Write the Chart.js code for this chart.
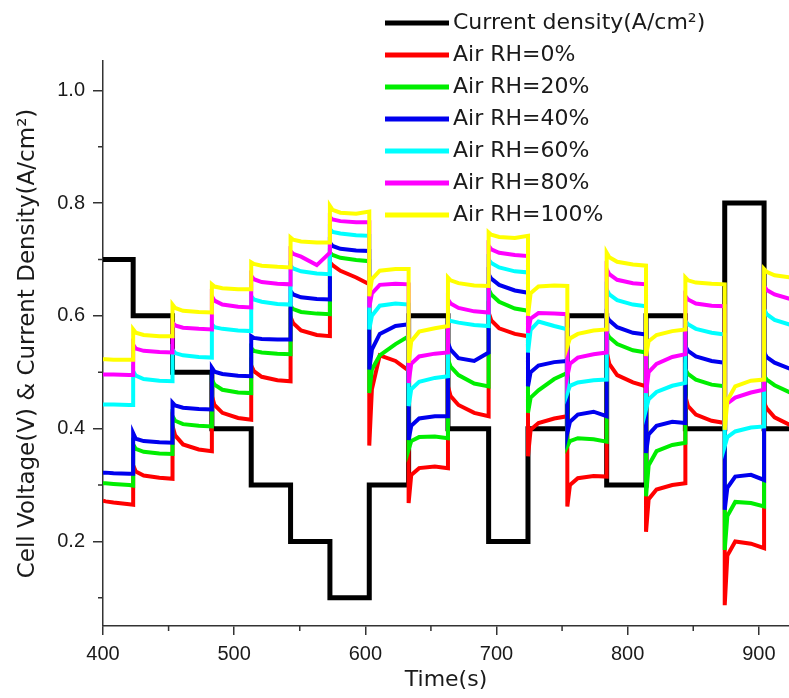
<!DOCTYPE html>
<html>
<head>
<meta charset="utf-8">
<script src="https://cdn.jsdelivr.net/npm/chart.js@4.4.1/dist/chart.umd.min.js"></script>
<style>
  html, body { margin: 0; padding: 0; background: #fff; }
  #wrap { width: 789px; height: 698px; }
</style>
</head>
<body>
<div id="wrap"><canvas id="chart" width="789" height="698"></canvas></div>
<script>
// time stamps (s) read for every load step: start, +2, +8, +20, end
const sampleTimes = [
  400, 402, 408, 420, 423,
  423, 425, 431, 443, 453,
  453, 455, 461, 473, 483,
  483, 485, 491, 503, 513,
  513, 515, 521, 533, 543,
  543, 545, 551, 563, 573,
  573, 575, 581, 593, 603,
  603, 605, 611, 623, 633,
  633, 635, 641, 653, 663,
  663, 665, 671, 683, 694,
  694, 696, 702, 714, 724,
  724, 726, 732, 744, 754,
  754, 756, 762, 774, 784,
  784, 786, 792, 804, 814,
  814, 816, 822, 834, 844,
  844, 846, 852, 864, 874,
  874, 876, 882, 894, 904,
  904, 906, 912, 924, 926
];

// cell voltage (V)
const rh0 = [
  0.272, 0.271, 0.269, 0.266, 0.265,
  0.335, 0.324, 0.317, 0.313, 0.311,
  0.405, 0.388, 0.372, 0.363, 0.360,
  0.458, 0.442, 0.428, 0.419, 0.416,
  0.512, 0.502, 0.492, 0.486, 0.484,
  0.598, 0.587, 0.574, 0.566, 0.564,
  0.695, 0.690, 0.680, 0.668, 0.656,
  0.370, 0.470, 0.530, 0.520, 0.503,
  0.268, 0.318, 0.330, 0.333, 0.330,
  0.475, 0.458, 0.442, 0.428, 0.422,
  0.606, 0.592, 0.578, 0.568, 0.564,
  0.351, 0.398, 0.410, 0.418, 0.422,
  0.262, 0.300, 0.312, 0.316, 0.315,
  0.535, 0.515, 0.495, 0.482, 0.475,
  0.217, 0.275, 0.292, 0.300, 0.303,
  0.457, 0.440, 0.425, 0.414, 0.410,
  0.087, 0.175, 0.200, 0.196, 0.188,
  0.446, 0.436, 0.420, 0.406, 0.404
];
const rh20 = [
  0.303, 0.303, 0.302, 0.300, 0.299,
  0.372, 0.364, 0.359, 0.356, 0.355,
  0.422, 0.414, 0.408, 0.405, 0.404,
  0.487, 0.478, 0.469, 0.464, 0.463,
  0.543, 0.538, 0.535, 0.533, 0.532,
  0.617, 0.612, 0.607, 0.604, 0.603,
  0.712, 0.708, 0.703, 0.699, 0.697,
  0.463, 0.505, 0.530, 0.550, 0.564,
  0.363, 0.378, 0.385, 0.386, 0.383,
  0.523, 0.510, 0.495, 0.480, 0.475,
  0.647, 0.638, 0.625, 0.613, 0.609,
  0.428, 0.455, 0.468, 0.488, 0.499,
  0.369, 0.378, 0.383, 0.381, 0.377,
  0.570, 0.562, 0.550, 0.539, 0.535,
  0.280, 0.335, 0.360, 0.371, 0.375,
  0.505, 0.497, 0.487, 0.478, 0.475,
  0.185, 0.245, 0.270, 0.268, 0.262,
  0.493, 0.487, 0.477, 0.464, 0.462
];
const rh40 = [
  0.322, 0.322, 0.321, 0.320, 0.320,
  0.392, 0.382, 0.378, 0.376, 0.375,
  0.446, 0.441, 0.437, 0.435, 0.434,
  0.508, 0.501, 0.497, 0.494, 0.493,
  0.564, 0.561, 0.559, 0.558, 0.558,
  0.644, 0.638, 0.633, 0.630, 0.629,
  0.730, 0.724, 0.719, 0.716, 0.715,
  0.505, 0.540, 0.568, 0.582, 0.585,
  0.380, 0.405, 0.418, 0.422, 0.422,
  0.552, 0.540, 0.525, 0.520, 0.535,
  0.674, 0.666, 0.655, 0.645, 0.641,
  0.475, 0.500, 0.512, 0.518, 0.520,
  0.392, 0.412, 0.425, 0.430, 0.422,
  0.600, 0.592, 0.580, 0.570, 0.567,
  0.357, 0.390, 0.405, 0.412, 0.410,
  0.546, 0.538, 0.528, 0.520, 0.517,
  0.256, 0.295, 0.315, 0.318, 0.309,
  0.535, 0.527, 0.517, 0.506, 0.504
];
const rh60 = [
  0.443, 0.443, 0.443, 0.442, 0.442,
  0.502, 0.494, 0.488, 0.485, 0.484,
  0.540, 0.534, 0.530, 0.527, 0.526,
  0.585, 0.580, 0.577, 0.574, 0.573,
  0.635, 0.629, 0.625, 0.621, 0.620,
  0.689, 0.684, 0.679, 0.675, 0.674,
  0.754, 0.749, 0.746, 0.743, 0.742,
  0.576, 0.600, 0.618, 0.622, 0.620,
  0.440, 0.470, 0.483, 0.490, 0.493,
  0.594, 0.591, 0.588, 0.584, 0.582,
  0.700, 0.694, 0.686, 0.679, 0.677,
  0.535, 0.575, 0.590, 0.582, 0.576,
  0.463, 0.476, 0.482, 0.486, 0.487,
  0.647, 0.638, 0.628, 0.620, 0.617,
  0.434, 0.452, 0.465, 0.476, 0.481,
  0.591, 0.585, 0.577, 0.570, 0.567,
  0.369, 0.385, 0.395, 0.402, 0.404,
  0.612, 0.603, 0.593, 0.584, 0.582
];
const rh80 = [
  0.496, 0.496, 0.496, 0.495, 0.495,
  0.549, 0.542, 0.538, 0.536, 0.535,
  0.588, 0.583, 0.579, 0.577, 0.576,
  0.635, 0.627, 0.620, 0.616, 0.615,
  0.671, 0.665, 0.660, 0.657, 0.656,
  0.715, 0.710, 0.705, 0.690, 0.712,
  0.775, 0.771, 0.768, 0.766, 0.766,
  0.615, 0.640, 0.655, 0.657, 0.656,
  0.481, 0.515, 0.528, 0.533, 0.535,
  0.629, 0.622, 0.614, 0.608, 0.606,
  0.724, 0.718, 0.712, 0.708, 0.706,
  0.570, 0.595, 0.605, 0.604, 0.603,
  0.493, 0.515, 0.526, 0.532, 0.535,
  0.683, 0.674, 0.664, 0.658, 0.656,
  0.463, 0.500, 0.515, 0.527, 0.532,
  0.635, 0.629, 0.622, 0.618, 0.617,
  0.430, 0.445, 0.455, 0.464, 0.469,
  0.653, 0.646, 0.638, 0.630, 0.629
];
const rh100 = [
  0.523, 0.523, 0.522, 0.522, 0.522,
  0.576, 0.570, 0.566, 0.564, 0.564,
  0.620, 0.614, 0.609, 0.607, 0.606,
  0.656, 0.652, 0.649, 0.647, 0.647,
  0.695, 0.692, 0.689, 0.687, 0.686,
  0.739, 0.735, 0.732, 0.730, 0.730,
  0.795, 0.788, 0.783, 0.781, 0.785,
  0.635, 0.665, 0.680, 0.683, 0.683,
  0.517, 0.555, 0.572, 0.578, 0.582,
  0.668, 0.663, 0.658, 0.654, 0.653,
  0.748, 0.744, 0.740, 0.738, 0.742,
  0.600, 0.640, 0.652, 0.654, 0.653,
  0.546, 0.560, 0.568, 0.574, 0.576,
  0.712, 0.704, 0.696, 0.691, 0.689,
  0.529, 0.555, 0.566, 0.573, 0.576,
  0.668, 0.663, 0.659, 0.657, 0.656,
  0.398, 0.450, 0.475, 0.485, 0.487,
  0.683, 0.678, 0.672, 0.668, 0.667
];

// load profile (A/cm2), one value per step start
const currentTimes = [400, 423, 453, 483, 513, 543, 573, 603, 633, 663, 694, 724, 754, 784, 814, 844, 874, 904, 926];
const currentDensity = [0.7, 0.6, 0.5, 0.4, 0.3, 0.2, 0.1, 0.3, 0.6, 0.4, 0.2, 0.4, 0.6, 0.3, 0.6, 0.4, 0.8, 0.4, 0.4];

const seriesLabels = ['Current density(A/cm\u00B2)', 'Air RH=0%', 'Air RH=20%', 'Air RH=40%', 'Air RH=60%', 'Air RH=80%', 'Air RH=100%'];
const seriesColors = ['#000000', '#ff0000', '#00ee00', '#0000ee', '#00ffff', '#ff00ff', '#ffff00'];

const xMajorTicks = [400, 500, 600, 700, 800, 900];
const xMinorTicks = [450, 550, 650, 750, 850];
const yMajorTicks = [0.2, 0.4, 0.6, 0.8, 1.0];
const yMinorTicks = [0.1, 0.3, 0.5, 0.7, 0.9];

const axisColor = '#333';
const textColor = '#1a1a1a';

function toPoints(xs, ys) {
  return xs.map((x, i) => ({ x: x, y: ys[i] }));
}

const voltageSets = [rh0, rh20, rh40, rh60, rh80, rh100];
const datasets = [{
  label: seriesLabels[0],
  data: toPoints(currentTimes, currentDensity),
  borderColor: seriesColors[0],
  borderWidth: 5,
  stepped: 'before',
  order: 7
}];
voltageSets.forEach((vals, i) => {
  datasets.push({
    label: seriesLabels[i + 1],
    data: toPoints(sampleTimes, vals),
    borderColor: seriesColors[i + 1],
    order: 6 - i
  });
});

// legend sits inside the plot, top right
const insideLegend = {
  id: 'insideLegend',
  afterDraw(chart) {
    const ctx = chart.ctx;
    ctx.save();
    ctx.font = '22px "DejaVu Sans"';
    ctx.textBaseline = 'middle';
    ctx.textAlign = 'left';
    chart.data.datasets.forEach((ds, i) => {
      const y = 23 + i * 32;
      ctx.strokeStyle = ds.borderColor;
      ctx.lineWidth = 5;
      ctx.beginPath();
      ctx.moveTo(385, y);
      ctx.lineTo(449, y);
      ctx.stroke();
      ctx.fillStyle = textColor;
      ctx.fillText(ds.label, 453, y);
    });
    ctx.restore();
  }
};

// short unlabelled ticks between the major ones
const minorTicks = {
  id: 'minorTicks',
  afterDraw(chart) {
    const { ctx, chartArea, scales } = chart;
    ctx.save();
    ctx.strokeStyle = axisColor;
    ctx.lineWidth = 1.5;
    ctx.beginPath();
    xMinorTicks.forEach(v => {
      const px = scales.x.getPixelForValue(v);
      ctx.moveTo(px, chartArea.bottom);
      ctx.lineTo(px, chartArea.bottom + 5);
    });
    yMinorTicks.forEach(v => {
      const py = scales.y.getPixelForValue(v);
      ctx.moveTo(chartArea.left, py);
      ctx.lineTo(chartArea.left - 5, py);
    });
    ctx.stroke();
    ctx.restore();
  }
};

new Chart(document.getElementById('chart'), {
  type: 'line',
  data: { datasets: datasets },
  options: {
    responsive: false,
    animation: false,
    events: [],
    layout: { padding: { top: 61, right: 0, bottom: 0, left: 0 } },
    elements: {
      line: { borderWidth: 4, tension: 0, borderJoinStyle: 'miter', borderCapStyle: 'butt' },
      point: { radius: 0 }
    },
    plugins: {
      legend: { display: false },
      tooltip: { enabled: false }
    },
    scales: {
      x: {
        type: 'linear',
        position: 'bottom',
        min: 400,
        max: 923,
        afterBuildTicks: s => { s.ticks = xMajorTicks.map(v => ({ value: v })); },
        afterFit: s => { s.height = 72; },
        grid: { drawOnChartArea: false, drawTicks: true, tickLength: 9, color: axisColor, lineWidth: 1.5 },
        border: { display: true, color: axisColor, width: 1.5 },
        ticks: {
          color: textColor,
          padding: 7,
          maxRotation: 0,
          font: { family: '"Liberation Sans", Arial, sans-serif', size: 20 },
          callback: v => String(v)
        },
        title: {
          display: true,
          text: 'Time(s)',
          color: textColor,
          font: { family: '"DejaVu Sans"', size: 22 },
          padding: { top: 0, bottom: 5 }
        }
      },
      y: {
        type: 'linear',
        position: 'left',
        min: 0.05,
        max: 1.052,
        afterBuildTicks: s => { s.ticks = yMajorTicks.map(v => ({ value: v })); },
        afterFit: s => { s.width = 103; },
        grid: { drawOnChartArea: false, drawTicks: true, tickLength: 10, color: axisColor, lineWidth: 1.5 },
        border: { display: true, color: axisColor, width: 1.5 },
        ticks: {
          color: textColor,
          padding: 8,
          font: { family: '"Liberation Sans", Arial, sans-serif', size: 20 },
          callback: v => Number(v).toFixed(1)
        },
        title: {
          display: true,
          text: 'Cell Voltage(V) & Current Density(A/cm\u00B2)',
          color: textColor,
          font: { family: '"DejaVu Sans"', size: 23 },
          padding: { top: 14, bottom: 0 }
        }
      }
    }
  },
  plugins: [minorTicks, insideLegend]
});
</script>
</body>
</html>
